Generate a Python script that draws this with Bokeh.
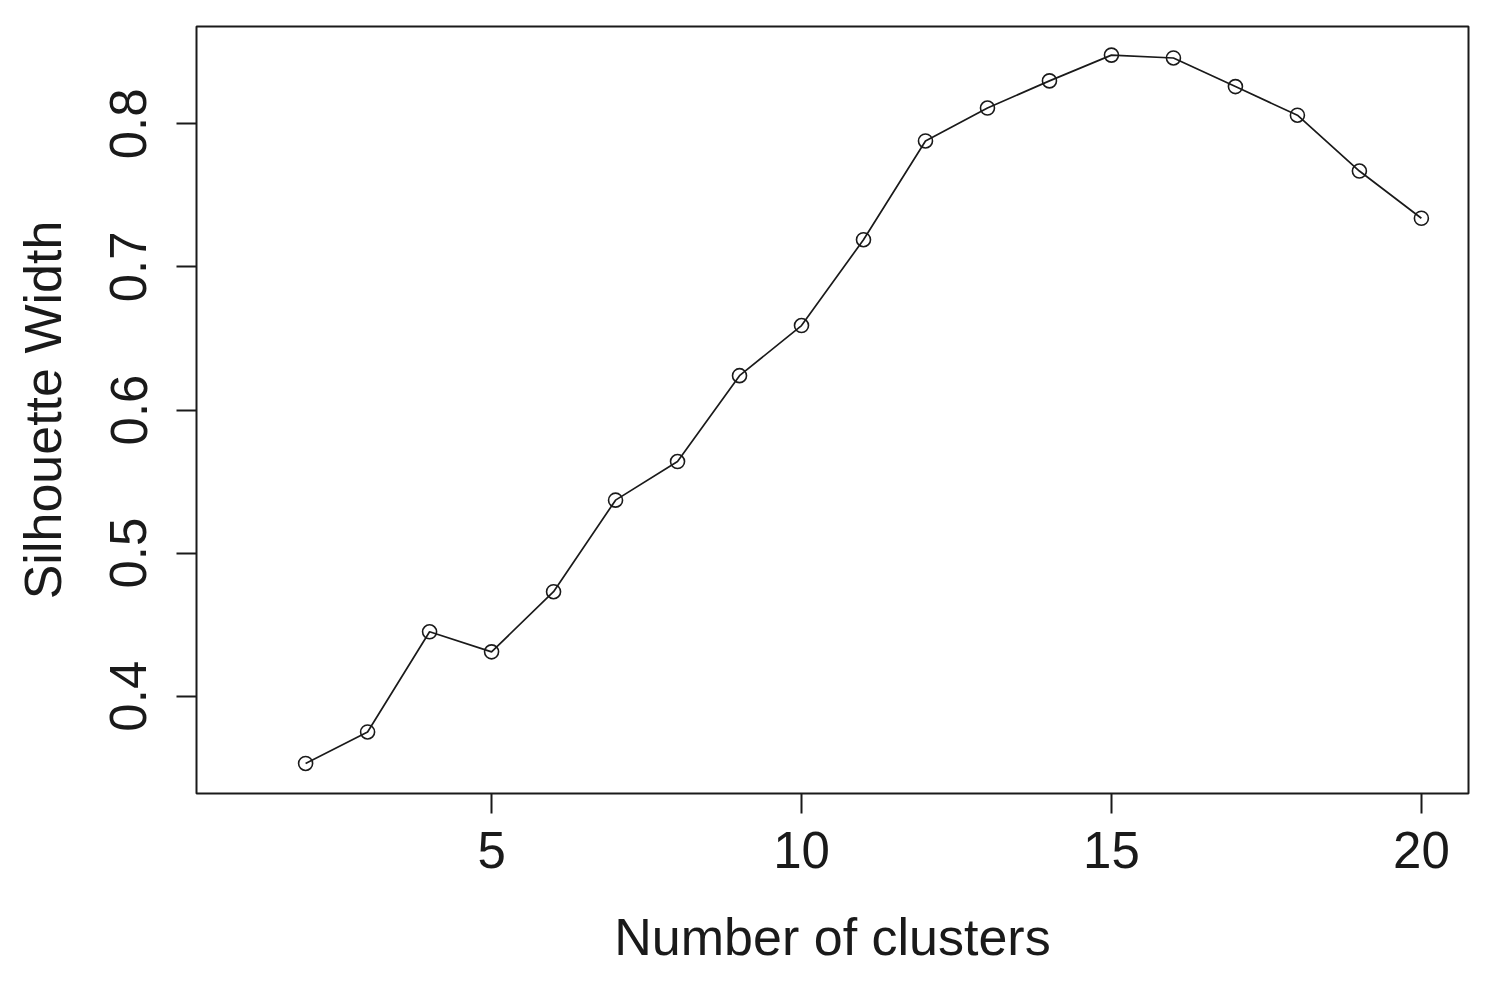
from bokeh.plotting import figure
from bokeh.models import Range1d, FixedTicker
from bokeh.embed import file_html
from bokeh.resources import INLINE

clusters = [2, 3, 4, 5, 6, 7, 8, 9, 10, 11, 12, 13, 14, 15, 16, 17, 18, 19, 20]
silhouette = [0.353, 0.375, 0.445, 0.431, 0.473, 0.537, 0.564, 0.624, 0.659, 0.719,
              0.788, 0.811, 0.830, 0.848, 0.846, 0.826, 0.806, 0.767, 0.734]
x_ticks = [5, 10, 15, 20]
y_ticks = [0.4, 0.5, 0.6, 0.7, 0.8]

FONT = "Liberation Sans"
INK = "#1a1a1a"

p = figure(width=1476, height=968, output_backend="svg", toolbar_location=None,
           x_range=Range1d(0.24, 20.76), y_range=Range1d(0.332, 0.868),
           min_border_left=196, min_border_top=26, min_border_right=8, min_border_bottom=173)

p.line(clusters, silhouette, line_color=INK, line_width=1.7)
p.scatter(clusters, silhouette, marker="circle", size=14, fill_color=None,
          line_color=INK, line_width=1.6)

p.xgrid.visible = False
p.ygrid.visible = False
p.outline_line_color = INK
p.outline_line_width = 2
p.background_fill_color = "white"
p.border_fill_color = "white"

p.xaxis.ticker = FixedTicker(ticks=x_ticks)
p.yaxis.ticker = FixedTicker(ticks=y_ticks)
p.xaxis.axis_label = "Number of clusters"
p.yaxis.axis_label = "Silhouette Width"
p.yaxis.major_label_orientation = "parallel"

for ax in (p.xaxis, p.yaxis):
    ax.axis_line_color = None
    ax.major_tick_line_color = INK
    ax.major_tick_line_width = 2
    ax.major_tick_out = 20
    ax.major_tick_in = 0
    ax.minor_tick_line_color = None
    ax.major_label_text_font = FONT
    ax.major_label_text_font_size = "51px"
    ax.major_label_text_color = INK
    ax.axis_label_text_font = FONT
    ax.axis_label_text_font_size = "52px"
    ax.axis_label_text_font_style = "normal"
    ax.axis_label_text_color = INK

p.xaxis.major_label_standoff = 18
p.xaxis.axis_label_standoff = 37
p.yaxis.major_label_standoff = 30
p.yaxis.axis_label_standoff = 36

open("out.html", "w").write(file_html(p, INLINE))
